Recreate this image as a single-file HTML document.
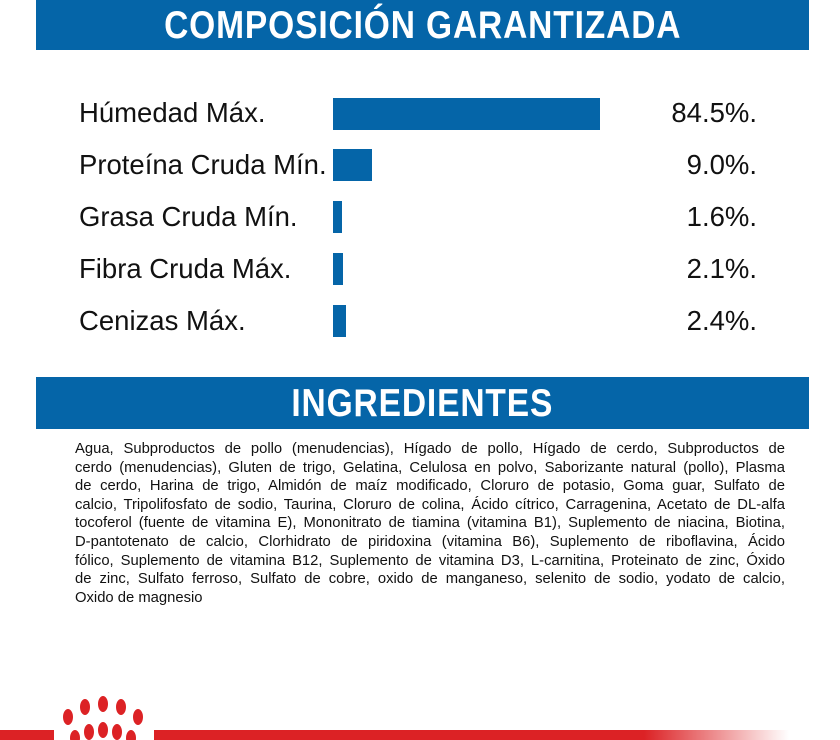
<!DOCTYPE html>
<html><head><meta charset="utf-8"><style>
body{margin:0;width:840px;height:740px;background:#fff;position:relative;overflow:hidden;font-family:"Liberation Sans",sans-serif;}
.hdr{position:absolute;left:36px;width:773px;background:#0565a8;color:#fff;text-align:center;font-weight:bold;}
.hdr span{display:inline-block;transform:scaleX(0.86);letter-spacing:1px;}
.lab{position:absolute;left:79px;font-size:27.5px;color:#111;}
.val{position:absolute;right:83px;font-size:27.5px;color:#111;}
.bar{position:absolute;left:333px;height:32px;background:#0565a8;}
.ing{position:absolute;left:75px;width:710px;top:440px;font-size:14.8px;line-height:18.6px;color:#111;}
.ing div{text-align:justify;text-align-last:justify;}
.ing div.l{text-align-last:left;}
</style></head><body>
<div class="hdr" style="top:0;height:50px;line-height:52px;font-size:39px;"><span>COMPOSICIÓN GARANTIZADA</span></div>

<div class="lab" style="top:97px">Húmedad Máx.</div><div class="bar" style="top:98px;width:267px"></div><div class="val" style="top:97px">84.5%.</div>
<div class="lab" style="top:149px">Proteína Cruda Mín.</div><div class="bar" style="top:149px;width:39px"></div><div class="val" style="top:149px">9.0%.</div>
<div class="lab" style="top:201px">Grasa Cruda Mín.</div><div class="bar" style="top:201px;width:9px"></div><div class="val" style="top:201px">1.6%.</div>
<div class="lab" style="top:253px">Fibra Cruda Máx.</div><div class="bar" style="top:253px;width:10px"></div><div class="val" style="top:253px">2.1%.</div>
<div class="lab" style="top:305px">Cenizas Máx.</div><div class="bar" style="top:305px;width:13px"></div><div class="val" style="top:305px">2.4%.</div>

<div class="hdr" style="top:377px;height:52px;line-height:54px;font-size:39px;"><span>INGREDIENTES</span></div>

<div class="ing">
<div>Agua, Subproductos de pollo (menudencias), Hígado de pollo, Hígado de cerdo, Subproductos de</div>
<div>cerdo (menudencias), Gluten de trigo, Gelatina, Celulosa en polvo, Saborizante natural (pollo), Plasma</div>
<div>de cerdo, Harina de trigo, Almidón de maíz modificado, Cloruro de potasio, Goma guar, Sulfato de</div>
<div>calcio, Tripolifosfato de sodio, Taurina, Cloruro de colina, Ácido cítrico, Carragenina, Acetato de DL-alfa</div>
<div>tocoferol (fuente de vitamina E), Mononitrato de tiamina (vitamina B1), Suplemento de niacina, Biotina,</div>
<div>D-pantotenato de calcio, Clorhidrato de piridoxina (vitamina B6), Suplemento de riboflavina, Ácido</div>
<div>fólico, Suplemento de vitamina B12, Suplemento de vitamina D3, L-carnitina, Proteinato de zinc, Óxido</div>
<div>de zinc, Sulfato ferroso, Sulfato de cobre, oxido de manganeso, selenito de sodio, yodato de calcio,</div>
<div class="l">Oxido de magnesio</div>
</div>

<div style="position:absolute;left:0;top:730px;width:54px;height:10px;background:#dc2225"></div>
<div style="position:absolute;left:154px;top:730px;width:686px;height:10px;background:linear-gradient(to right,#dc2225 0,#dc2225 490px,rgba(220,34,37,0) 635px)"></div>
<svg style="position:absolute;left:0;top:680px" width="200" height="60">
<g fill="#dc2225">
<ellipse cx="68" cy="37" rx="5" ry="8"/><ellipse cx="85" cy="27" rx="5" ry="8"/><ellipse cx="103" cy="24" rx="5" ry="8"/><ellipse cx="121" cy="27" rx="5" ry="8"/><ellipse cx="138" cy="37" rx="5" ry="8"/>
<ellipse cx="75" cy="58" rx="5" ry="8"/><ellipse cx="89" cy="52" rx="5" ry="8"/><ellipse cx="103" cy="50" rx="5" ry="8"/><ellipse cx="117" cy="52" rx="5" ry="8"/><ellipse cx="131" cy="58" rx="5" ry="8"/>
</g></svg>
</body></html>
